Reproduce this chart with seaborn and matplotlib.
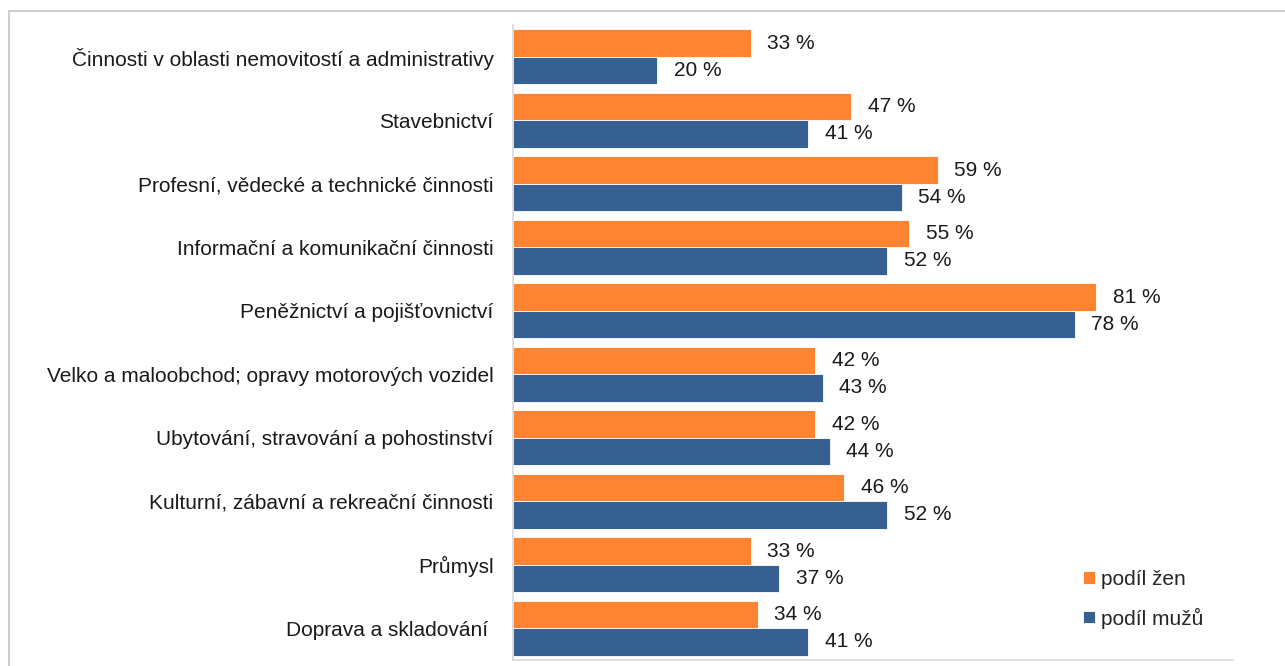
import matplotlib
matplotlib.use("Agg")
import matplotlib.pyplot as plt
import seaborn as sns
import pandas as pd
from matplotlib.patches import Rectangle

categories = [
    "Činnosti v oblasti nemovitostí a administrativy",
    "Stavebnictví",
    "Profesní, vědecké a technické činnosti",
    "Informační a komunikační činnosti",
    "Peněžnictví a pojišťovnictví",
    "Velko a maloobchod; opravy motorových vozidel",
    "Ubytování, stravování a pohostinství",
    "Kulturní, zábavní a rekreační činnosti",
    "Průmysl",
    "Doprava a skladování ",
]
podil_zen = [33, 47, 59, 55, 81, 42, 42, 46, 33, 34]
podil_muzu = [20, 41, 54, 52, 78, 43, 44, 52, 37, 41]
series = ["podíl žen", "podíl mužů"]
colors = ["#FF8431", "#376092"]

df = pd.DataFrame({
    "kategorie": categories * 2,
    "hodnota": podil_zen + podil_muzu,
    "serie": [series[0]] * len(categories) + [series[1]] * len(categories),
})

sns.set_style("white")
plt.rcParams["font.family"] = ["Liberation Sans", "DejaVu Sans"]

fig = plt.figure(figsize=(12.85, 6.66), dpi=100)
ax = fig.add_axes([513 / 1285, 1 - 660 / 666, 720 / 1285, 635 / 666])

sns.barplot(data=df, x="hodnota", y="kategorie", hue="serie", order=categories,
            hue_order=series, palette=colors, orient="h", width=0.86,
            saturation=1, edgecolor="white", linewidth=0.6, ax=ax)

ax.set_xlim(0, 100)
ax.set_xlabel("")
ax.set_ylabel("")
ax.set_xticks([])
ax.tick_params(axis="y", length=0, pad=14, labelsize=15)
for lab in ax.get_yticklabels():
    lab.set_color("#1a1a1a")

for container in ax.containers:
    ax.bar_label(container, labels=[f"{v:.0f} %" for v in container.datavalues],
                 padding=12, fontsize=15, color="#1a1a1a")

for side in ["top", "right"]:
    ax.spines[side].set_visible(False)
for side in ["left", "bottom"]:
    ax.spines[side].set_color("#d9d9d9")
    ax.spines[side].set_linewidth(1.2)

ax.legend(loc="lower right", bbox_to_anchor=(0.985, 0.02), frameon=False,
          fontsize=15, handlelength=0.55, handleheight=0.55, handletextpad=0.3,
          labelspacing=0.9)

fig.patches.append(Rectangle((9 / 1285, -0.1), 1.2, 1 - 11 / 666 + 0.1,
                             transform=fig.transFigure, fill=False,
                             edgecolor="#cfcfcf", linewidth=1.5))

fig.savefig("out.png", dpi=100)
